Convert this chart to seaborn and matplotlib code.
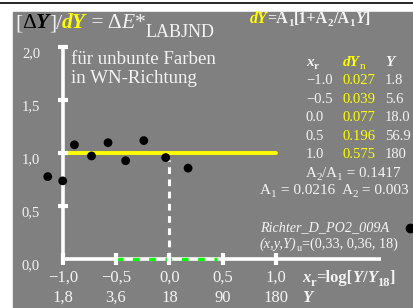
import matplotlib
matplotlib.use('Agg')
import matplotlib.pyplot as plt
from matplotlib.patches import Rectangle
import numpy as np
import pandas as pd
import seaborn as sns

sns.set_theme(style='white')
plt.rcParams['font.family'] = ['Liberation Serif', 'DejaVu Serif']

# measured points: x_r = log(Y/18), ratio [dY]/dY
xr_pts = [-1.14, -1.0, -0.89, -0.73, -0.575, -0.41, -0.24, -0.035, 0.175]
ratio_pts = [0.78, 0.74, 1.08, 0.975, 1.10, 0.93, 1.12, 0.96, 0.86]

# table at the right
tab_xr = ["\u22121.0", "\u22120.5", "0.0", "0.5", "1.0"]
tab_dyn = ["0.027", "0.039", "0.077", "0.196", "0.575"]
tab_Y = ["1.8", "5.6", "18.0", "56.9", "180"]

xticks = [-1.0, -0.5, 0.0, 0.5, 1.0]
xlabels1 = ["\u22121,0", "\u22120,5", "0,0", "0,5", "1,0"]
xlabels2 = ["1,8", "3,6", "18", "90", "180"]
yticks = [0.0, 0.5, 1.0, 1.5, 2.0]
ylabels = ["0,0", "0,5", "1,0", "1,5", "2,0"]

GRAY = '#808080'
YEL = '#ffff00'
GRN = '#00ff00'
TXT = '#f4f4f4'

W, H = 414, 308
fig = plt.figure(figsize=(W / 100, H / 100), dpi=100, facecolor='white')
ax = fig.add_axes([0, 0, 1, 1])
ax.set_xlim(-1.5876, 2.2924)
ax.set_ylim(-0.4594, 2.4462)
ax.axis('off')
renderer = fig.canvas.get_renderer()

ax.add_patch(Rectangle((13 / W, 0), (W - 13) / W, (H - 12) / H,
                       transform=ax.transAxes, color=GRAY, zorder=0))
ax.plot([0, 1], [1 - 2.5 / H] * 2, transform=ax.transAxes, color='black', lw=1.2)


def put(px, py, pieces, size):
    x = px
    for s, kw in pieces:
        kw = dict(kw)
        dy = kw.pop('dy', 0)
        kw.setdefault('size', size)
        kw.setdefault('color', TXT)
        t = ax.text(x / W, 1 - (py + dy) / H, s, transform=ax.transAxes,
                    va='baseline', ha='left', **kw)
        x = t.get_window_extent(renderer).x1
    return x


# axes
lw = 2.6
ax.plot([-1, 1.98], [0, 0], color='white', lw=lw, solid_capstyle='butt', zorder=2)
ax.plot([-1, -1], [0, 2.0], color='white', lw=lw, solid_capstyle='butt', zorder=2)
for xt in xticks:
    ax.plot([xt, xt], [-0.055, 0.055], color='white', lw=3, solid_capstyle='butt', zorder=4)
for yt in yticks[1:]:
    ax.plot([-1.047, -0.953], [yt, yt], color='white', lw=3, solid_capstyle='butt', zorder=4)

# green dashed part and white dashed vertical
ax.plot([-0.5, 0.45], [0, 0], color=GRN, lw=2.4, dashes=(2.0, 2.9), zorder=3)
ax.plot([0, 0], [0, 0.94], color='white', lw=2.2, dashes=(2.2, 1.8), zorder=2)

# yellow reference line
ref = pd.DataFrame({'x': [-1.0, 1.0], 'y': [1.0, 1.0]})
sns.lineplot(data=ref, x='x', y='y', color=YEL, lw=2.8, ax=ax, zorder=3)

# points
pts = pd.DataFrame({'xr': xr_pts, 'ratio': ratio_pts})
sns.scatterplot(data=pts, x='xr', y='ratio', color='black', s=40,
                edgecolor='none', ax=ax, zorder=5)
ax.set_xlabel('')
ax.set_ylabel('')

# tick labels
blend = matplotlib.transforms.blended_transform_factory(ax.transData, ax.transAxes)
for xt, l1, l2 in zip(xticks, xlabels1, xlabels2):
    ax.text(xt, 1 - 282 / H, l1, transform=blend, ha='center', va='baseline',
            size=12, color=TXT)
    ax.text(xt, 1 - 302 / H, l2, transform=blend, ha='center', va='baseline',
            size=12, color=TXT)
for yt, l in zip(yticks, ylabels):
    ax.text(31 / W, yt, l, transform=matplotlib.transforms.blended_transform_factory(
        ax.transAxes, ax.transData), ha='center', va='top', size=10.5, color=TXT)

put(302, 282, [("x", dict(weight='bold', style='italic')),
               ("r", dict(weight='bold', size=9, dy=4)),
               ("=log[", dict(weight='bold')),
               ("Y", dict(weight='bold', style='italic')),
               ("/", dict(weight='bold')),
               ("Y", dict(weight='bold', style='italic')),
               ("18", dict(weight='bold', size=9, dy=4)),
               ("]", dict(weight='bold'))], 12)
put(302, 302, [("Y", dict(weight='bold', style='italic'))], 12)

# title
put(15, 28, [("[", {}), ("\u0394", dict(color='black')),
             ("Y", dict(color='black', weight='bold', style='italic')),
             ("]/", {}),
             ("dY", dict(color=YEL, weight='bold', style='italic')),
             (" = \u0394", {}), ("E", dict(style='italic')), ("*", {}),
             ("LABJND", dict(size=13, dy=9))], 15.5)

put(250, 23, [("dY", dict(color=YEL, weight='bold', style='italic')),
              ("=A", dict(weight='bold')), ("1", dict(weight='bold', size=8, dy=3)),
              ("[1+A", dict(weight='bold')), ("2", dict(weight='bold', size=8, dy=3)),
              ("/A", dict(weight='bold')), ("1", dict(weight='bold', size=8, dy=3)),
              ("Y", dict(weight='bold', style='italic')),
              ("]", dict(weight='bold'))], 11.5)

ax.text(71 / W, 1 - 64 / H, "f\u00fcr unbunte Farben", transform=ax.transAxes,
        va='baseline', size=13.6, color=TXT)
ax.text(71 / W, 1 - 83 / H, "in WN-Richtung", transform=ax.transAxes,
        va='baseline', size=13.6, color=TXT)

# table
put(306, 66, [("x", dict(weight='bold', style='italic')),
              ("r", dict(weight='bold', size=8, dy=3))], 11)
put(343, 66, [("dY", dict(color=YEL, weight='bold', style='italic')),
              ("n", dict(color=YEL, size=8, dy=3))], 11)
put(385, 66, [("Y", dict(weight='bold', style='italic'))], 11)
for i, (a, b, c) in enumerate(zip(tab_xr, tab_dyn, tab_Y)):
    yb = 84 + i * 18.5
    put(306, yb, [(a, {})], 10.5)
    put(343, yb, [(b, dict(color=YEL))], 10.5)
    put(385, yb, [(c, {})], 10.5)

put(306, 177, [("A", {}), ("2", dict(size=8, dy=3)), ("/A", {}),
               ("1", dict(size=8, dy=3)), (" = 0.1417", {})], 10.8)
put(260, 194, [("A", {}), ("1", dict(size=8, dy=3)), (" = 0.0216  A", {}),
               ("2", dict(size=8, dy=3)), (" = 0.003", {})], 11)
put(260, 231, [("Richter_D_PO2_009A", dict(style='italic'))], 10.2)
put(260, 248, [("(x,y,Y)", dict(style='italic')), ("u", dict(size=7.5, dy=3)),
               ("=(0,33, 0,36, 18)", {})], 10.3)
ax.plot([410 / W], [1 - 228 / H], 'o', color='black', ms=6, transform=ax.transAxes,
        clip_on=False)

fig.savefig('out.png', dpi=100, facecolor='white')
